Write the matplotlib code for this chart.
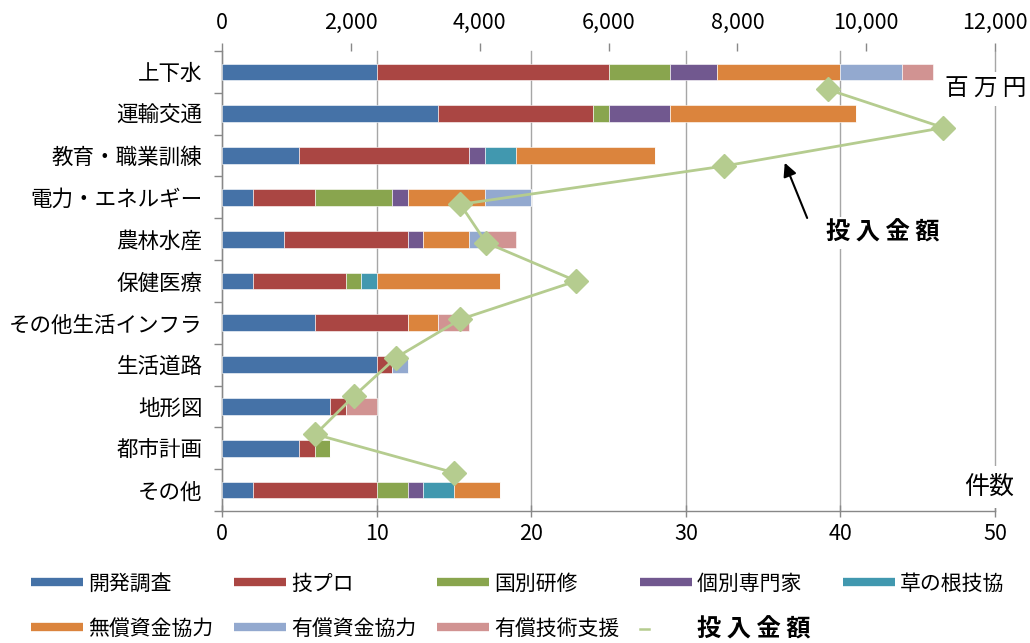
import matplotlib
matplotlib.use("Agg")
import matplotlib.pyplot as plt
import numpy as np
from matplotlib.lines import Line2D
from matplotlib.ticker import FuncFormatter, MultipleLocator
from matplotlib.legend_handler import HandlerBase

plt.rcParams['font.family'] = ['Noto Sans CJK JP', 'DejaVu Sans']

categories = ['上下水', '運輸交通', '教育・職業訓練', '電力・エネルギー', '農林水産', '保健医療',
              'その他生活インフラ', '生活道路', '地形図', '都市計画', 'その他']

kaihatsu = [10, 14, 5, 2, 4, 2, 6, 10, 7, 5, 2]        # 開発調査
gipro = [15, 10, 11, 4, 8, 6, 6, 1, 1, 1, 8]          # 技プロ
kokubetsu = [4, 1, 0, 5, 0, 1, 0, 0, 0, 1, 2]         # 国別研修
kobetsu = [3, 4, 1, 1, 1, 0, 0, 0, 0, 0, 1]           # 個別専門家
kusanone = [0, 0, 2, 0, 0, 1, 0, 0, 0, 0, 2]          # 草の根技協
musho = [8, 12, 9, 5, 3, 8, 2, 0, 0, 0, 3]            # 無償資金協力
yusho_shikin = [4, 0, 0, 3, 1, 0, 0, 1, 0, 0, 0]      # 有償資金協力
yusho_gijutsu = [2, 0, 0, 0, 2, 0, 2, 0, 2, 0, 0]     # 有償技術支援
tonyu = [9400, 11200, 7800, 3700, 4100, 5500, 3700, 2700, 2050, 1450, 3600]  # 投入金額 (百万円)

series_names = ['開発調査', '技プロ', '国別研修', '個別専門家', '草の根技協',
                '無償資金協力', '有償資金協力', '有償技術支援']
series_vals = [kaihatsu, gipro, kokubetsu, kobetsu, kusanone, musho, yusho_shikin, yusho_gijutsu]
colors = ['#4572A7', '#AA4643', '#89A54E', '#71588F', '#4198AF', '#DB843D', '#93A9CF', '#D19392']
line_color = '#B5CC8F'
line_name = '投入金額'

fig = plt.figure(figsize=(10.3, 6.43), dpi=100)
pos = [222 / 1030, 1 - 511 / 643, (995 - 222) / 1030, (511 - 51) / 643]
ax = fig.add_axes(pos)

y = np.arange(len(categories))
left = np.zeros(len(categories))
for name, vals, c in zip(series_names, series_vals, colors):
    v = np.array(vals, dtype=float)
    ax.barh(y, v, left=left, height=0.4, color=c, edgecolor='#FFFFFF', linewidth=0.4,
            label=name, zorder=3)
    left += v

ax.set_xlim(0, 50)
ax.set_ylim(10.5, -0.5)
ax.set_yticks(y)
ax.set_yticklabels(categories, fontsize=15.5)
ax.set_yticks(np.arange(-0.5, 11, 1), minor=True)
ax.tick_params(axis='y', which='major', length=0, pad=14)
ax.tick_params(axis='y', which='minor', length=6, width=1, color='#888888', direction='out')
ax.xaxis.set_major_locator(MultipleLocator(10))
ax.tick_params(axis='x', which='major', direction='inout', length=8, width=1,
               color='#888888', labelsize=15.5, pad=5)
ax.grid(axis='x', color='#A6A6A6', linewidth=1, zorder=0)
for gl in ax.get_xgridlines():
    gl.set_clip_on(False)
for s in ['top', 'right']:
    ax.spines[s].set_visible(False)
for s in ['left', 'bottom']:
    ax.spines[s].set_color('#888888')
    ax.spines[s].set_linewidth(1)

ax2 = fig.add_axes(pos, frameon=False)
ax2.patch.set_alpha(0)
ax2.plot(tonyu, np.arange(len(tonyu)), color=line_color, linewidth=2,
         marker='D', markersize=12, markerfacecolor=line_color, markeredgecolor=line_color,
         zorder=5, label=line_name)
ax2.set_xlim(0, 12000)
ax2.set_ylim(11, -1)
ax2.set_yticks([])
ax2.xaxis.tick_top()
ax2.xaxis.set_major_locator(MultipleLocator(2000))
ax2.xaxis.set_major_formatter(FuncFormatter(lambda v, p: f'{v:,.0f}'))
ax2.tick_params(axis='x', direction='out', length=6, width=1, color='#888888',
                labelsize=15.5, pad=6)
ax2.spines['top'].set_visible(True)
ax2.spines['top'].set_color('#888888')
ax2.spines['top'].set_linewidth(1)

# unit labels
ax.text(0.988, 0.917, '百 万 円', transform=ax.transAxes, ha='center', va='center',
        fontsize=17, zorder=6,
        bbox=dict(facecolor='white', edgecolor='none', pad=4))
ax.text(0.993, 0.052, '件数', transform=ax.transAxes, ha='center', va='center',
        fontsize=18, zorder=6,
        bbox=dict(facecolor='white', edgecolor='none', pad=6))

# annotation
ax2.annotate('', xy=(0.728, 0.757), xycoords='axes fraction',
             xytext=(0.757, 0.637), textcoords='axes fraction',
             arrowprops=dict(arrowstyle='-|>', color='black', lw=1.5,
                             mutation_scale=20, shrinkA=0, shrinkB=0), zorder=7)
ax2.text(0.855, 0.605, '投 入 金 額', transform=ax2.transAxes, ha='center', va='center',
         fontsize=17.5, fontweight='bold', zorder=7,
         bbox=dict(facecolor='white', edgecolor='none', pad=3))


class ShortLineHandler(HandlerBase):
    def create_artists(self, legend, orig_handle, xdescent, ydescent, width, height,
                       fontsize, trans):
        yc = height / 2 - ydescent
        l = Line2D([width * 0.0, width * 0.18], [yc, yc], color=line_color, lw=1.8,
                   transform=trans)
        return [l]


handles = [Line2D([0], [0], color=c, lw=6, solid_capstyle='butt') for c in colors]
line_handle = Line2D([0], [0], color=line_color, lw=1.8)
all_h = handles + [line_handle]
labels = list(series_names)
labels[3] = labels[3] + '\u3000'
all_l = labels + [line_name]
order = [0, 5, 1, 6, 2, 7, 3, 8, 4]
leg = fig.legend([all_h[i] for i in order], [all_l[i] for i in order],
                 loc='lower left', bbox_to_anchor=(0.02, -0.014), ncol=5,
                 frameon=False, fontsize=15, handlelength=2.5, handletextpad=0.25,
                 columnspacing=0.98, labelspacing=1.1, borderaxespad=0.1,
                 handler_map={line_handle: ShortLineHandler()})
for t in leg.get_texts():
    if t.get_text() == line_name:
        t.set_text('投 入 金 額')
        t.set_fontweight('bold')
        t.set_fontsize(17.5)

fig.savefig('out.png', dpi=100)
